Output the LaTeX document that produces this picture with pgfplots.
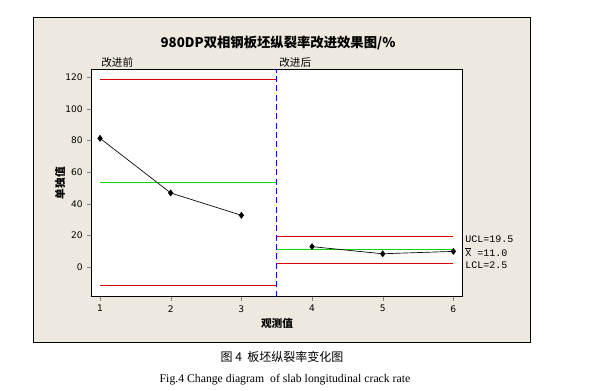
\documentclass[border=0pt]{standalone}
\usepackage{fontspec}
\setmainfont{Liberation Serif}
\newfontfamily\cjk{Noto Sans CJK SC}
\newfontfamily\tickf{DejaVu Sans}
\newfontfamily\monof{Liberation Mono}
\usepackage{pgfplots}
\pgfplotsset{compat=1.18}
\definecolor{panel}{RGB}{237,233,222}
\definecolor{lgreen}{RGB}{0,220,0}
\definecolor{lred}{RGB}{225,0,0}
\begin{document}
\begin{tikzpicture}[x=0.75pt,y=-0.75pt]
\fill[white] (0,0) rectangle (602,390);
\fill[panel,draw=black,line width=0.6pt] (33,17) rectangle (530,342);
\begin{axis}[at={(68.5pt,-222.5pt)}, anchor=south west, scale only axis,
  width=278.25pt, height=170.55pt,
  xmin=0.877, xmax=6.127, ymin=-18.6, ymax=125,
  xtick={1,...,6}, ytick={0,20,...,120},
  tick align=outside, tick pos=left, major tick length=3pt,
  axis background/.style={fill=white},
  axis line style={line width=0.6pt}, clip=false,
  ticklabel style={font=\tickf\fontsize{6.8}{7}\selectfont},
  /pgf/number format/assume math mode=true]
\addplot[lred, line width=0.6pt] coordinates {(1,118.7) (3.5,118.7)};
\addplot[lgreen, line width=0.6pt] coordinates {(1,53.7) (3.5,53.7)};
\addplot[lred, line width=0.6pt] coordinates {(1,-11.3) (3.5,-11.3)};
\addplot[lred, line width=0.6pt] coordinates {(3.5,19.5) (6,19.5)};
\addplot[lgreen, line width=0.6pt] coordinates {(3.5,11.0) (6,11.0)};
\addplot[lred, line width=0.6pt] coordinates {(3.5,2.5) (6,2.5)};
\addplot[blue, line width=0.6pt, dash pattern=on 4.5pt off 2.5pt] coordinates {(3.5,-18.6) (3.5,125)};
\addplot[black, line width=0.5pt, mark=diamond*, mark size=2.2pt, mark options={solid}] coordinates {(1,81.4) (2,46.9) (3,32.8)};
\addplot[black, line width=0.5pt, mark=diamond*, mark size=2.2pt, mark options={solid}] coordinates {(4,13.0) (5,8.5) (6,10.0)};
\end{axis}
\node at (278,43) {\cjk\bfseries\fontsize{10}{12}\selectfont 980DP双相钢板坯纵裂率改进效果图/\%};
\node[anchor=west, inner sep=0pt] at (101,62) {\cjk\fontsize{8}{9}\selectfont 改进前};
\node[anchor=west, inner sep=0pt] at (279,62) {\cjk\fontsize{8}{9}\selectfont 改进后};
\node[rotate=90] at (60,183) {\cjk\bfseries\fontsize{8}{9}\selectfont 单独值};
\node at (277,323) {\cjk\bfseries\fontsize{8}{9}\selectfont 观测值};
\node[anchor=west, inner sep=0pt] at (465,239) {\monof\fontsize{7.5}{8}\selectfont UCL=19.5};
\node[anchor=west, inner sep=0pt] at (465,252) {\monof\fontsize{7.5}{8}\selectfont $\overline{\hbox{\monof X}}$ =11.0};
\node[anchor=west, inner sep=0pt] at (465,265) {\monof\fontsize{7.5}{8}\selectfont LCL=2.5};
\node at (282,357) {\cjk\fontsize{9}{10}\selectfont 图 4\ \ 板坯纵裂率变化图};
\node at (285,380) {\fontsize{8.8}{10}\selectfont Fig.4 Change diagram\ \ of slab longitudinal crack rate};
\end{tikzpicture}
\end{document}
